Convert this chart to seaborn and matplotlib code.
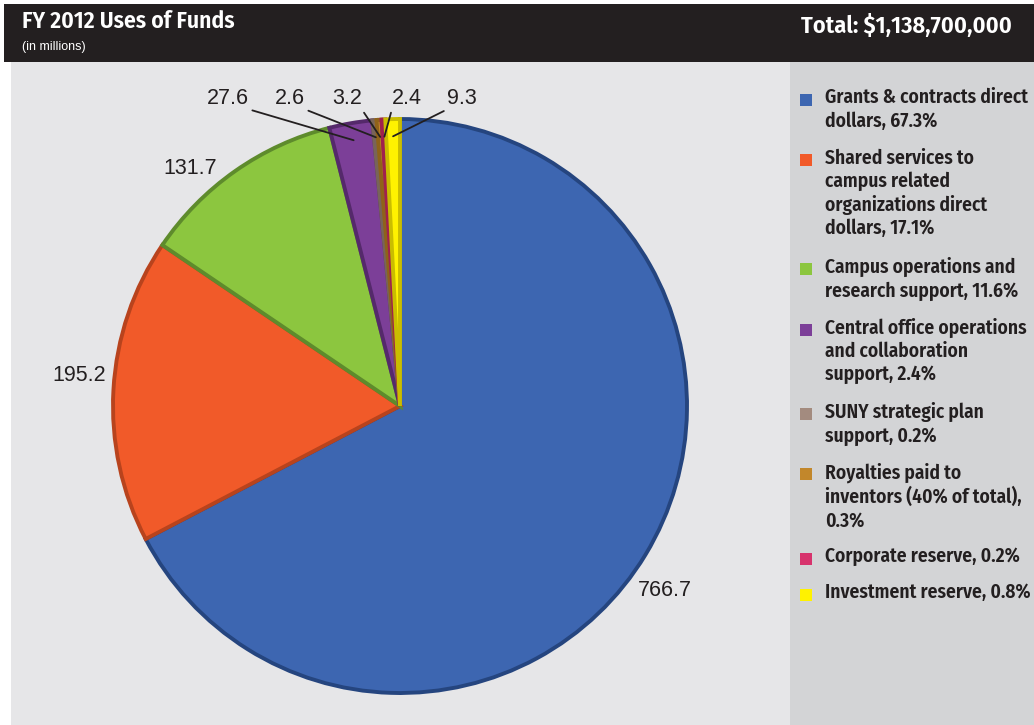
import numpy as np
import matplotlib
matplotlib.use("Agg")
import matplotlib.pyplot as plt
from matplotlib.patches import Rectangle
from matplotlib import font_manager
import seaborn as sns

# data (millions of dollars), clockwise from 12 o'clock
categories = ["Grants & contracts direct dollars",
              "Shared services to campus related organizations direct dollars",
              "Campus operations and research support",
              "Central office operations and collaboration support",
              "SUNY strategic plan support",
              "Royalties paid to inventors (40% of total)",
              "Corporate reserve",
              "Investment reserve"]
values = [766.7, 195.2, 131.7, 27.6, 2.6, 3.2, 2.4, 9.3]
value_labels = ["766.7", "195.2", "131.7", "27.6", "2.6", "3.2", "2.4", "9.3"]
percents = ["67.3%", "17.1%", "11.6%", "2.4%", "0.2%", "0.3%", "0.2%", "0.8%"]
legend_lines = [
    ["Grants & contracts direct", "dollars, 67.3%"],
    ["Shared services to", "campus related", "organizations direct", "dollars, 17.1%"],
    ["Campus operations and", "research support, 11.6%"],
    ["Central office operations", "and collaboration", "support, 2.4%"],
    ["SUNY strategic plan", "support, 0.2%"],
    ["Royalties paid to", "inventors (40% of total),", "0.3%"],
    ["Corporate reserve, 0.2%"],
    ["Investment reserve, 0.8%"],
]
colors = ["#3d66b1", "#f15a29", "#8cc63f", "#7c3f98", "#a38b7f", "#c2872b", "#d7336d", "#fff200"]
edges = ["#25457f", "#b8431d", "#5e8b2c", "#55296b", "#786459", "#8f6219", "#a0204e", "#c9bd00"]

sns.set_theme(style="white")
plain = ["Liberation Sans", "DejaVu Sans"]

# look for a narrow face among the installed fonts
cond_file = None
for f in font_manager.findSystemFonts():
    n = f.lower()
    if ("condensed" in n or "narrow" in n) and "bold" in n and "oblique" not in n and "italic" not in n:
        cond_file = f
        break
cond = font_manager.FontProperties(fname=cond_file) if cond_file else \
    font_manager.FontProperties(family="DejaVu Sans", stretch="condensed", weight="bold")

W, H = 1034, 725
fig = plt.figure(figsize=(W / 100, H / 100), dpi=100)
fig.patch.set_facecolor("white")

def px(x, y, w, h):
    # pixel box (top-left origin) -> figure fraction rect
    return [x / W, 1 - (y + h) / H, w / W, h / H]

def cf(size):
    p = cond.copy()
    p.set_size(size)
    return p

# background panels
bg = fig.add_axes([0, 0, 1, 1])
bg.set_xlim(0, W)
bg.set_ylim(H, 0)
bg.axis("off")
bg.add_patch(Rectangle((11, 62), 779, H - 62, color="#e6e6e8", lw=0))
bg.add_patch(Rectangle((790, 62), W - 790, H - 62, color="#d3d4d6", lw=0))
bg.add_patch(Rectangle((4, 4), W - 4, 58, color="#231f20", lw=0))
bg.text(22, 21, "FY 2012 Uses of Funds", color="white", fontproperties=cf(17),
        va="center", ha="left")
bg.text(22, 47, "(in millions)", color="white", fontsize=9, family=plain, va="center")
bg.text(1012, 26, "Total: $1,138,700,000", color="white", fontproperties=cf(17.5),
        va="center", ha="right")

# pie
R = 287
cx, cy = 400, 406
ax = fig.add_axes(px(cx - R, cy - R, 2 * R, 2 * R))
wedges, _ = ax.pie(values, colors=colors, startangle=90, counterclock=False,
                   wedgeprops=dict(linewidth=2.8))
for w, e in zip(wedges, edges):
    w.set_edgecolor(e)
ax.set_xlim(-1, 1)
ax.set_ylim(-1, 1)
ax.set_aspect("equal")
ax.axis("off")

mids = [np.deg2rad((w.theta1 + w.theta2) / 2) for w in wedges]

# big slices: label placed near the wedge midpoint (angle offset, radius)
big = {0: (-3.7, 1.126), 1: (-2.2, 1.122), 2: (6.4, 1.104)}
for i, (dang, r) in big.items():
    a = mids[i] + np.deg2rad(dang)
    ax.text(r * np.cos(a), r * np.sin(a), value_labels[i], fontsize=15.5, family=plain,
            ha="center", va="center", color="#231f20")

# small slices: labels in a row above with leader lines
row_x = {3: -0.599, 4: -0.383, 5: -0.185, 6: 0.024, 7: 0.216}
for i, tx in row_x.items():
    a = mids[i]
    rel = (1, 0) if tx < 0 else (0, 0)
    ax.annotate(value_labels[i], xy=(0.94 * np.cos(a), 0.94 * np.sin(a)),
                xytext=(tx, 1.07), fontsize=15.5, family=plain, ha="center", va="center",
                color="#231f20",
                arrowprops=dict(arrowstyle="-", color="#231f20", lw=1.3,
                                relpos=rel, shrinkA=0, shrinkB=0))

# legend
y = 88
for c, lines in zip(colors, legend_lines):
    bg.add_patch(Rectangle((800, y + 6), 12, 12, color=c, lw=0))
    bg.text(825, y, "\n".join(lines), fontproperties=cf(14),
            color="#231f20", va="top", ha="left", linespacing=1.25)
    y += 24.3 * len(lines) + 11.7

fig.savefig("out.png", dpi=100)
